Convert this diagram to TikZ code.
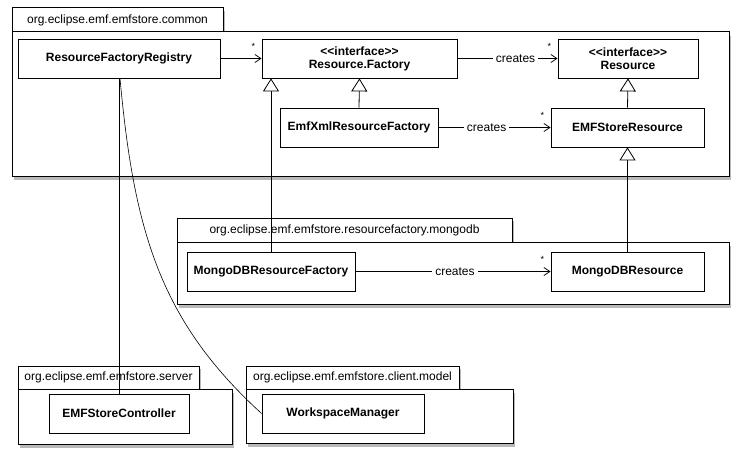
\documentclass[tikz,border=0pt]{standalone}
\usepackage{fontspec}
\setmainfont{Liberation Sans}
\usepackage{tikz}
\usetikzlibrary{arrows.meta,shadows,positioning}
\tikzset{
    pkgtab/.style={rectangle, draw, fill=white, line width=1pt, inner sep=0pt,
        drop shadow={shadow xshift=2pt, shadow yshift=-3pt, opacity=.55}},
    pkgbody/.style={rectangle, draw, fill=white, line width=1pt, inner sep=0pt,
        drop shadow={shadow xshift=2pt, shadow yshift=-4pt, opacity=.55}},
    cls/.style={rectangle, draw, fill=white, line width=0.8pt, inner sep=0pt,
        minimum height=39pt, align=center, font=\fontsize{12}{13}\selectfont\bfseries},
    dep/.style={draw, line width=0.8pt, -{Straight Barb[length=6pt, width=8pt]}},
    inherit/.style={draw, line width=0.8pt, -{Triangle[length=13pt, width=16pt, fill=white]}},
    uses/.style={draw, line width=0.7pt},
    lbl/.style={fill=white, inner sep=3pt, font=\fontsize{12}{13}\selectfont},
    mult/.style={pos=1, above left, inner sep=1pt, xshift=-5pt, yshift=8pt,
        font=\fontsize{9}{9}\selectfont}
}

\begin{document}
\begin{tikzpicture}[x=1pt, y=-1pt, font=\fontsize{12}{13}\selectfont]
    \useasboundingbox (0,0) rectangle (741,460);

    % Packages
    \node[pkgtab, minimum width=211pt, minimum height=24pt] (commontab) at (117.5,20) {org.eclipse.emf.emfstore.common};
    \node[pkgbody, minimum width=717pt, minimum height=144pt] (common) at (370.5,104) {};
    \node[pkgtab, minimum width=335pt, minimum height=24pt] (mongotab) at (344.5,230) {org.eclipse.emf.emfstore.resourcefactory.mongodb};
    \node[pkgbody, minimum width=552pt, minimum height=62pt] (mongo) at (453,273) {};
    \node[pkgtab, minimum width=181pt, minimum height=23pt] (servertab) at (108.5,377.5) {org.eclipse.emf.emfstore.server};
    \node[pkgbody, minimum width=214pt, minimum height=55pt] (server) at (125,416.5) {};
    \node[pkgtab, minimum width=213pt, minimum height=23pt] (clienttab) at (352.5,377.5) {org.eclipse.emf.emfstore.client.model};
    \node[pkgbody, minimum width=267pt, minimum height=54pt] (client) at (379.5,416) {};

    % Classes
    \node[cls, minimum width=202pt] (registry) at (119,58.5) {ResourceFactoryRegistry};
    \node[cls, minimum width=195pt] (factory) at (359.5,58.5) {<{}<interface>{}>\\Resource.Factory};
    \node[cls, minimum width=140pt] (resource) at (628,58.5) {<{}<interface>{}>\\Resource};
    \node[cls, minimum width=158pt] (emfxml) at (359,127.5) {EmfXmlResourceFactory};
    \node[cls, minimum width=153pt] (emfres) at (627.5,127.5) {EMFStoreResource};
    \node[cls, minimum width=168pt] (mongofac) at (271,271.5) {MongoDBResourceFactory};
    \node[cls, minimum width=153pt] (mongores) at (627.5,271.5) {MongoDBResource};
    \node[cls, minimum width=140pt] (controller) at (119,413.5) {EMFStoreController};
    \node[cls, minimum width=162pt] (wsm) at (343,413.5) {WorkspaceManager};

    % edges
    \draw[dep] (registry.east) -- node[mult] {*} (factory.west);
    \draw[dep] (factory.east) -- node[lbl, pos=0.58] {creates} node[mult] {*} (resource.west);
    \draw[dep] (emfxml.east) -- node[lbl, pos=0.43] {creates} node[mult] {*} (emfres.west);
    \draw[dep] (mongofac.east) -- node[lbl, pos=0.51] {creates} node[mult] {*} (mongores.west);
    \draw[inherit] (emfxml.north) -- (factory.south);
    \draw[inherit] (emfres.north) -- (resource.south);
    \draw[inherit] (mongores.north) -- (emfres.south);
    \draw[inherit] (mongofac.north) -- (mongofac.north |- factory.south);
    \draw[uses] (registry.south) -- (controller.north);
    \draw[uses, line width=0.6pt] ([xshift=1pt]registry.south) .. controls +(14,152) and +(-102,-93) .. (wsm.west);
\end{tikzpicture}
\end{document}
